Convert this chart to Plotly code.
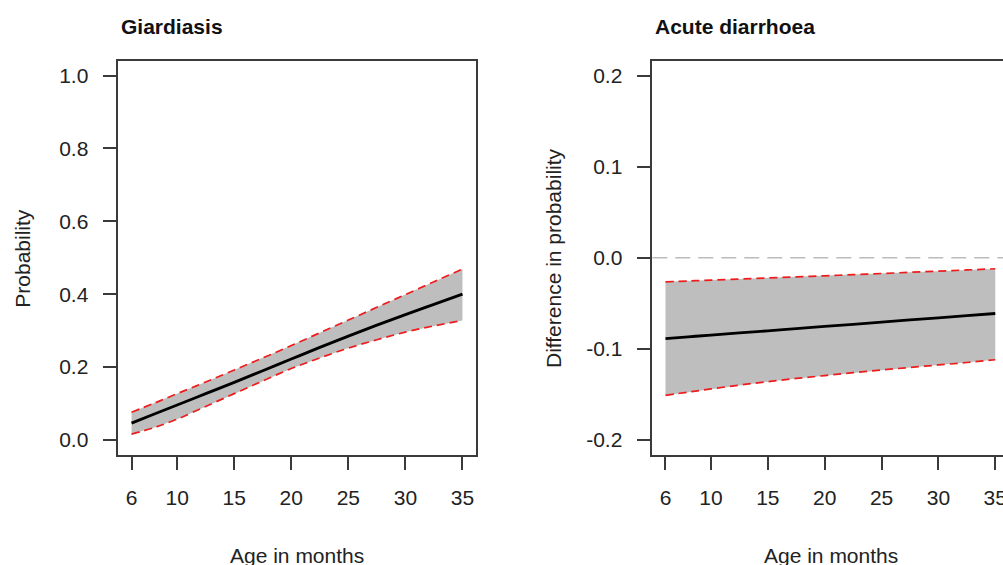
import plotly.graph_objects as go

# ---- data ----
age = [6, 8, 10, 12.5, 15, 17.5, 20, 22.5, 25, 27.5, 30, 32.5, 35]

giardia_fit = [0.046, 0.071, 0.096, 0.127, 0.158, 0.190, 0.222, 0.254, 0.285, 0.315, 0.344, 0.372, 0.400]
giardia_upper = [0.076, 0.101, 0.127, 0.159, 0.192, 0.225, 0.259, 0.294, 0.329, 0.364, 0.399, 0.434, 0.469]
giardia_lower = [0.016, 0.034, 0.057, 0.092, 0.127, 0.162, 0.196, 0.225, 0.252, 0.275, 0.296, 0.313, 0.328]

diarr_fit = [-0.0887, -0.0868, -0.0849, -0.0825, -0.0802, -0.0778, -0.0754, -0.0731, -0.0707, -0.0683, -0.0660, -0.0636, -0.0612]
diarr_upper = [-0.0264, -0.0255, -0.0246, -0.0234, -0.0222, -0.0210, -0.0198, -0.0186, -0.0173, -0.0160, -0.0147, -0.0134, -0.0121]
diarr_lower = [-0.1510, -0.1475, -0.1440, -0.1398, -0.1360, -0.1325, -0.1293, -0.1262, -0.1232, -0.1204, -0.1177, -0.1150, -0.1120]

x_ticks = [6, 10, 15, 20, 25, 30, 35]
y1_ticks = [0.0, 0.2, 0.4, 0.6, 0.8, 1.0]
y2_ticks = [-0.2, -0.1, 0.0, 0.1, 0.2]

titles = ["Giardiasis", "Acute diarrhoea"]
x_title = "Age in months"
y_titles = ["Probability", "Difference in probability"]

W, H = 1003, 565
FONT = "Liberation Sans, Arial, sans-serif"
FS = 21
AX = "#3a3a3a"
GREY = "#BEBEBE"
RED = "#EE1C1C"

fig = go.Figure()

def add_panel(xa, ya, fit, up, lo):
    fig.add_trace(go.Scatter(x=age, y=up, mode="lines", line=dict(width=0, color=GREY),
                             xaxis=xa, yaxis=ya, showlegend=False, hoverinfo="skip"))
    fig.add_trace(go.Scatter(x=age, y=lo, mode="lines", line=dict(width=0, color=GREY),
                             fill="tonexty", fillcolor=GREY,
                             xaxis=xa, yaxis=ya, showlegend=False, hoverinfo="skip"))
    for s in (up, lo):
        fig.add_trace(go.Scatter(x=age, y=s, mode="lines", line_shape="spline",
                                 line=dict(color=RED, width=1.7, dash="8px,5px"),
                                 xaxis=xa, yaxis=ya, showlegend=False))
    fig.add_trace(go.Scatter(x=age, y=fit, mode="lines", line_shape="spline",
                             line=dict(color="black", width=2.8),
                             xaxis=xa, yaxis=ya, showlegend=False))

add_panel("x", "y", giardia_fit, giardia_upper, giardia_lower)
add_panel("x2", "y2", diarr_fit, diarr_upper, diarr_lower)

ydom = [(H - 454.5) / H, (H - 61) / H]
common_x = dict(tickmode="array", tickvals=x_ticks, ticks="outside", ticklen=14, tickwidth=1.5,
                tickcolor=AX, showline=True, linecolor=AX, linewidth=1.5, mirror=True,
                showgrid=False, zeroline=False, tickfont=dict(family=FONT, size=FS, color="#222"),
                ticklabelstandoff=10, ticklabeloverflow="allow", automargin=False)
common_y = dict(tickmode="array", ticks="outside", ticklen=14, tickwidth=1.5,
                tickcolor=AX, showline=True, linecolor=AX, linewidth=1.5,
                showgrid=False, zeroline=False, tickfont=dict(family=FONT, size=FS, color="#222"),
                ticklabelstandoff=10, ticklabeloverflow="allow", automargin=False)

fig.update_layout(
    width=W, height=H,
    margin=dict(l=0, r=0, t=0, b=0),
    paper_bgcolor="white", plot_bgcolor="white",
    xaxis=dict(domain=[118.3 / W, 475.7 / W], range=[4.84, 36.16], anchor="y", **common_x),
    yaxis=dict(domain=ydom, range=[-0.04, 1.04], anchor="x", mirror=True,
               tickvals=y1_ticks, ticktext=[f"{v:.1f}" for v in y1_ticks], **common_y),
    xaxis2=dict(domain=[652.3 / W, 1.0], range=[4.84, 35.68], anchor="y2", **common_x),
    yaxis2=dict(domain=ydom, range=[-0.216, 0.216], anchor="x2", mirror=False,
                tickvals=y2_ticks, ticktext=[f"{v:.1f}" for v in y2_ticks], **common_y),
    shapes=[dict(type="line", xref="x2 domain", yref="y2", x0=0, x1=1, y0=0, y1=0,
                 line=dict(color="#BBBBBB", width=1.6, dash="15px,8px"), layer="below")],
    annotations=[
        dict(text=f"<b>{titles[0]}</b>", x=119 / W, y=(H - 26) / H, xref="paper", yref="paper",
             xanchor="left", yanchor="middle", showarrow=False, font=dict(family=FONT, size=FS, color="#111")),
        dict(text=f"<b>{titles[1]}</b>", x=652.7 / W, y=(H - 26) / H, xref="paper", yref="paper",
             xanchor="left", yanchor="middle", showarrow=False, font=dict(family=FONT, size=FS, color="#111")),
        dict(text=x_title, x=297 / W, y=(H - 555) / H, xref="paper", yref="paper",
             xanchor="center", yanchor="middle", showarrow=False, font=dict(family=FONT, size=FS, color="#222")),
        dict(text=x_title, x=830.5 / W, y=(H - 555) / H, xref="paper", yref="paper",
             xanchor="center", yanchor="middle", showarrow=False, font=dict(family=FONT, size=FS, color="#222")),
        dict(text=y_titles[0], x=21.7 / W, y=(H - 258) / H, xref="paper", yref="paper", textangle=-90,
             xanchor="center", yanchor="middle", showarrow=False, font=dict(family=FONT, size=FS, color="#222")),
        dict(text=y_titles[1], x=553 / W, y=(H - 258) / H, xref="paper", yref="paper", textangle=-90,
             xanchor="center", yanchor="middle", showarrow=False, font=dict(family=FONT, size=FS, color="#222")),
    ],
)

fig.write_html("out.html", config={"displayModeBar": False},
               post_script="document.body.style.margin='0';document.body.style.overflow='hidden';")
